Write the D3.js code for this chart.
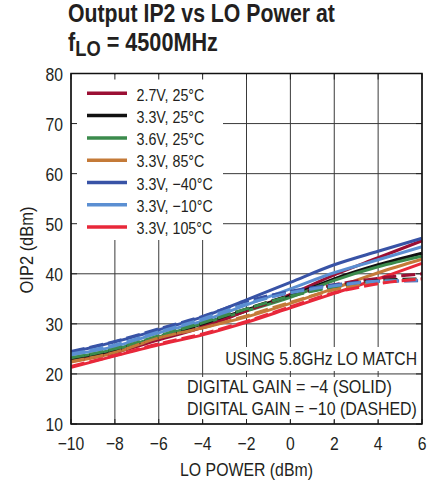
<!DOCTYPE html>
<html><head><meta charset="utf-8">
<script src="https://cdn.jsdelivr.net/npm/d3@7"></script>
<style>
html,body{margin:0;padding:0;background:#fff;}
svg{display:block;}
text{font-family:"Liberation Sans",Arial,Helvetica,sans-serif;fill:#231f20;}
</style></head>
<body>
<script>
// ---- data ----
const loPower = [-10, -8, -6, -4, -2, 0, 2, 4, 6];
const xTicks = [-10, -8, -6, -4, -2, 0, 2, 4, 6];
const yTicks = [10, 20, 30, 40, 50, 60, 70, 80];
const seriesNames = ["2.7V, 25°C", "3.3V, 25°C", "3.6V, 25°C", "3.3V, 85°C", "3.3V, −40°C", "3.3V, −10°C", "3.3V, 105°C"];
const seriesColors = ["#9b0f34", "#111111", "#3b8b4c", "#c47a38", "#3853a6", "#5b8fd2", "#e8283a"];
// solid: digital gain = -4
const solid_27V_25C  = [22.7, 24.3, 26.8, 29.3, 32.6, 35.9, 39.8, 43.2, 46.6];
const solid_33V_25C  = [23.0, 24.8, 27.3, 30.0, 32.8, 35.6, 39.0, 41.8, 44.1];
const solid_36V_25C  = [23.2, 24.9, 27.4, 30.1, 32.6, 35.3, 38.7, 41.4, 43.5];
const solid_33V_85C  = [22.4, 24.2, 27.2, 29.2, 31.4, 34.1, 37.1, 40.2, 42.9];
const solid_33V_m40C = [24.3, 26.4, 28.8, 31.4, 34.8, 38.3, 41.8, 44.5, 47.1];
const solid_33V_m10C = [23.8, 25.5, 28.2, 30.6, 33.8, 37.0, 40.2, 42.8, 45.4];
const solid_33V_105C = [21.3, 23.6, 25.8, 27.8, 30.3, 33.2, 36.1, 39.0, 42.1];
// dashed: digital gain = -10
const dash_27V_25C  = [22.6, 24.3, 27.0, 29.5, 32.6, 35.6, 37.8, 39.1, 40.0];
const dash_33V_25C  = [23.0, 24.8, 27.4, 30.0, 33.0, 35.6, 37.5, 38.6, 39.0];
const dash_36V_25C  = [23.2, 25.0, 27.6, 30.2, 33.0, 35.5, 37.4, 38.5, 38.8];
const dash_33V_85C  = [22.5, 24.3, 27.2, 29.2, 31.6, 34.3, 36.8, 38.2, 38.9];
const dash_33V_m40C = [24.5, 26.5, 29.0, 31.5, 34.5, 36.5, 37.8, 38.5, 38.6];
const dash_33V_m10C = [24.0, 25.8, 28.4, 31.0, 34.0, 36.2, 37.6, 38.5, 38.7];
const dash_33V_105C = [21.5, 23.7, 26.0, 28.0, 30.5, 33.4, 36.2, 38.0, 39.0];

const solidSeries = [solid_27V_25C, solid_33V_25C, solid_36V_25C, solid_33V_85C, solid_33V_m40C, solid_33V_m10C, solid_33V_105C];
const dashSeries = [dash_27V_25C, dash_33V_25C, dash_36V_25C, dash_33V_85C, dash_33V_m40C, dash_33V_m10C, dash_33V_105C];

// ---- chart ----
const W = 438, H = 485;
const svg = d3.select("body").append("svg").attr("width", W).attr("height", H);
const L = 71, R = 422, T = 73.5, B = 424;
const x = d3.scaleLinear().domain([-10, 6]).range([L, R]);
const y = d3.scaleLinear().domain([10, 80]).range([B, T]);
const fmt = v => v < 0 ? "−" + Math.abs(v) : String(v);

// condensed text: a group translated to (px,py), horizontally scaled
// opt.w = target width, or opt.f = scale factor
function ctext(parent, px, py, str, size, anchor, opt, rot) {
  const g = parent.append("g");
  const t = g.append("text").attr("x", 0).attr("y", 0).attr("font-size", size)
    .attr("text-anchor", anchor || "start").text(str);
  if (opt.bold) t.attr("font-weight", "bold");
  const w = t.node().getComputedTextLength();
  const s = opt.w ? opt.w / w : opt.f;
  g.attr("transform", `translate(${px},${py})${rot ? " rotate(" + rot + ")" : ""} scale(${s},1)`);
  return t;
}

// title
ctext(svg, 68, 22, "Output IP2 vs LO Power at", 26, "start", { w: 267, bold: true });
const tg = svg.append("g");
const t2 = tg.append("text").attr("x", 0).attr("y", 0).attr("font-size", 26).attr("font-weight", "bold");
t2.append("tspan").text("f");
t2.append("tspan").attr("font-size", 22).attr("dy", 5).text("LO");
t2.append("tspan").attr("dy", -5).text(" = 4500MHz");
const t2w = t2.node().getBBox().width;
tg.attr("transform", `translate(68,51) scale(${150 / t2w},1)`);

// gridlines
const grid = svg.append("g").attr("stroke", "#3a3a3a").attr("stroke-width", 1);
xTicks.forEach(v => grid.append("line").attr("x1", x(v)).attr("x2", x(v)).attr("y1", T).attr("y2", B));
yTicks.forEach(v => grid.append("line").attr("x1", L).attr("x2", R).attr("y1", y(v)).attr("y2", y(v)));

// white masks behind legend and notes
const masks = svg.append("g").attr("fill", "#fff");
masks.append("rect").attr("x", L + 1).attr("y", T + 1).attr("width", 223 - L - 1).attr("height", 240 - T - 1);
masks.append("rect").attr("x", 222).attr("y", 347).attr("width", R - 1 - 222).attr("height", 24);
masks.append("rect").attr("x", 185).attr("y", 377).attr("width", R - 1 - 185).attr("height", 43);

// inward ticks on all sides
const tk = svg.append("g").attr("stroke", "#222").attr("stroke-width", 1);
xTicks.forEach(v => {
  tk.append("line").attr("x1", x(v)).attr("x2", x(v)).attr("y1", B).attr("y2", B - 5);
  tk.append("line").attr("x1", x(v)).attr("x2", x(v)).attr("y1", T).attr("y2", T + 6);
});
yTicks.forEach(v => {
  tk.append("line").attr("x1", L).attr("x2", L + 6).attr("y1", y(v)).attr("y2", y(v));
  tk.append("line").attr("x1", R).attr("x2", R - 6).attr("y1", y(v)).attr("y2", y(v));
});

// data lines
const line = d3.line().x((d, i) => x(loPower[i])).y(d => y(d)).curve(d3.curveMonotoneX);
const lg = svg.append("g").attr("fill", "none").attr("stroke-width", 3).attr("stroke-linejoin", "round");
solidSeries.forEach((s, i) => lg.append("path").attr("d", line(s)).attr("stroke", seriesColors[i]));
dashSeries.forEach((s, i) => lg.append("path").attr("d", line(s)).attr("stroke", seriesColors[i]).attr("stroke-dasharray", "14,5"));

// axes border
svg.append("rect").attr("x", L).attr("y", T).attr("width", R - L).attr("height", B - T)
  .attr("fill", "none").attr("stroke", "#111").attr("stroke-width", 1.5);

// tick labels
yTicks.forEach(v => ctext(svg, 63, y(v) + 7, fmt(v), 18.5, "end", { f: 0.85 }));
xTicks.forEach(v => ctext(svg, x(v), 450, fmt(v), 18.5, "middle", { f: 0.85 }));

// axis titles
ctext(svg, 246.5, 476, "LO POWER (dBm)", 17.5, "middle", { w: 133 });
ctext(svg, 33, 250, "OIP2 (dBm)", 17.5, "middle", { w: 87 }, -90);

// legend
const leg = svg.append("g");
seriesNames.forEach((n, i) => {
  const yy = 93.3 + i * 22.3;
  leg.append("line").attr("x1", 87).attr("x2", 127).attr("y1", yy).attr("y2", yy)
    .attr("stroke", seriesColors[i]).attr("stroke-width", 3.5);
  ctext(leg, 136.5, yy + 7.2, n, 17, "start", { f: 0.84 });
});

// notes
ctext(svg, 417, 365, "USING 5.8GHz LO MATCH", 18.5, "end", { w: 192 });
ctext(svg, 187, 393, "DIGITAL GAIN = −4 (SOLID)", 18.5, "start", { w: 205 });
ctext(svg, 187, 415, "DIGITAL GAIN = −10 (DASHED)", 18.5, "start", { w: 230 });
</script>
</body></html>
